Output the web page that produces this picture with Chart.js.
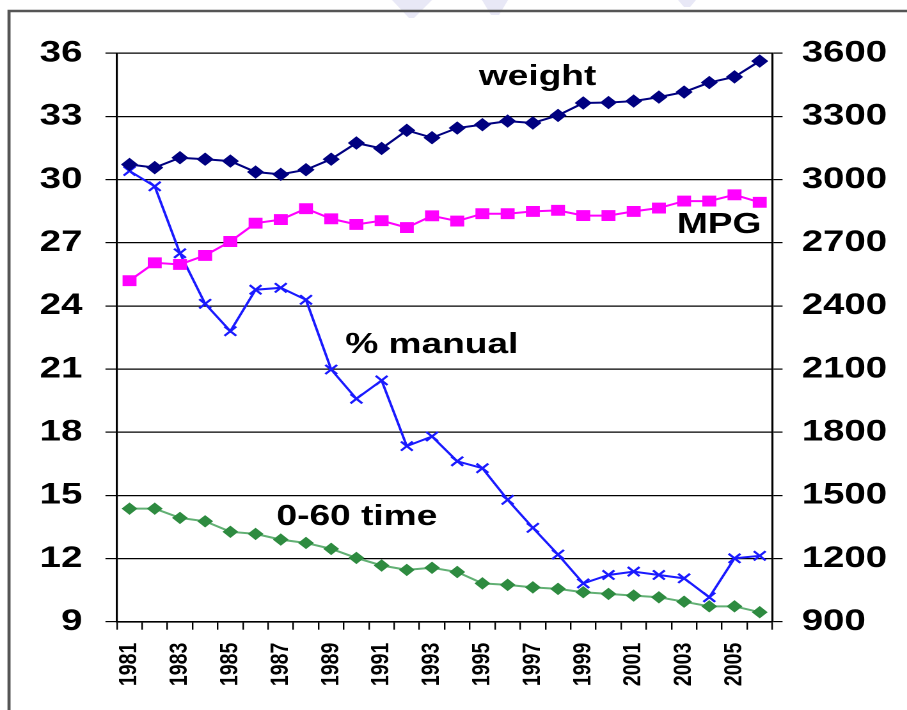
<!DOCTYPE html>
<html>
<head>
<meta charset="utf-8">
<script src="https://cdn.jsdelivr.net/npm/chart.js@4.4.0/dist/chart.umd.min.js"></script>
<style>
  html, body { margin: 0; padding: 0; background: #fff; overflow: hidden; }
  #wrap { position: absolute; left: 0; top: 0; width: 709px; height: 710px;
          transform: scaleX(1.2793); transform-origin: 0 0; }
</style>
</head>
<body>
<div id="wrap"><canvas id="c" width="709" height="710"></canvas></div>
<script>
// ---- data ----
const years = ["1981","1982","1983","1984","1985","1986","1987","1988","1989","1990","1991","1992","1993",
               "1994","1995","1996","1997","1998","1999","2000","2001","2002","2003","2004","2005","2006"];
const weight = [3072, 3057, 3104, 3097, 3088, 3036, 3025, 3047, 3097, 3174, 3148, 3234, 3199,
                3245, 3261, 3278, 3269, 3305, 3364, 3366, 3373, 3392, 3416, 3461, 3488, 3563];
const mpg = [25.2, 26.05, 25.97, 26.4, 27.06, 27.93, 28.1, 28.62, 28.14, 27.87, 28.05, 27.72, 28.28,
             28.03, 28.38, 28.38, 28.49, 28.54, 28.29, 28.29, 28.49, 28.65, 28.98, 28.98, 29.28, 28.92];
const pctManual = [30.41, 29.68, 26.5, 24.1, 22.8, 24.77, 24.86, 24.29, 20.98, 19.59, 20.46, 17.34, 17.8,
                   16.62, 16.29, 14.79, 13.46, 12.19, 10.82, 11.22, 11.38, 11.22, 11.06, 10.16, 12.01, 12.13];
const zeroToSixty = [14.37, 14.37, 13.93, 13.77, 13.27, 13.17, 12.9, 12.74, 12.46, 12.03, 11.67, 11.46, 11.56,
                     11.36, 10.82, 10.75, 10.63, 10.56, 10.4, 10.32, 10.24, 10.16, 9.95, 9.73, 9.73, 9.45];
const leftTicks = { min: 9, max: 36, step: 3 };
const rightTicks = { min: 900, max: 3600, step: 300 };
const seriesLabels = ["weight", "MPG", "% manual", "0-60 time"];

const SX = 1.2793; // horizontal stretch of the reference picture
const FONT = '"Liberation Sans", Arial, sans-serif';

// annotations placed in data coordinates (category index, left-axis value)
const notes = [
  { text: seriesLabels[0], idx: 16.19, val: 34.49 },
  { text: seriesLabels[1], idx: 23.39, val: 27.46 },
  { text: seriesLabels[2], idx: 11.99, val: 21.76 },
  { text: seriesLabels[3], idx: 9.02,  val: 13.59 }
];

const decor = {
  id: 'decor',
  beforeDraw(chart) {
    const ctx = chart.ctx;
    ctx.save();
    ctx.fillStyle = '#fff';
    ctx.fillRect(0, 0, chart.width, chart.height);
    // faint slide-background shapes at the very top
    ctx.fillStyle = '#e8e8f6';
    const shapes = [
      [[392,0],[432,0],[414,18],[409,18]],
      [[482,0],[508,0],[499,15],[491,15]],
      [[678,0],[696,0],[690,7],[684,7]]
    ];
    shapes.forEach(p => {
      ctx.beginPath();
      p.forEach((pt, i) => { const x = pt[0] / SX; i ? ctx.lineTo(x, pt[1]) : ctx.moveTo(x, pt[1]); });
      ctx.closePath(); ctx.fill();
    });
    // outer frame
    ctx.strokeStyle = '#555';
    ctx.lineWidth = 2.4;
    ctx.beginPath();
    ctx.moveTo(9 / SX, 720); ctx.lineTo(9 / SX, 11); ctx.lineTo(chart.width + 10, 11);
    ctx.stroke();
    ctx.restore();
  },
  afterDatasetsDraw(chart) {
    const ctx = chart.ctx, xs = chart.scales.x, ys = chart.scales.y;
    ctx.save();
    ctx.fillStyle = '#000';
    ctx.font = 'bold 29px ' + FONT;
    ctx.textAlign = 'center';
    ctx.textBaseline = 'alphabetic';
    notes.forEach(n => ctx.fillText(n.text, xs.getPixelForValue(n.idx), ys.getPixelForValue(n.val)));
    ctx.restore();
  }
};

new Chart(document.getElementById('c'), {
  type: 'line',
  data: {
    labels: years,
    datasets: [
      { label: seriesLabels[0], data: weight, yAxisID: 'y1',
        borderColor: '#000080', backgroundColor: '#000080', borderWidth: 2,
        pointStyle: 'rectRot', pointRadius: 6, pointBackgroundColor: '#000080', pointBorderColor: '#000080', pointBorderWidth: 1 },
      { label: seriesLabels[1], data: mpg, yAxisID: 'y',
        borderColor: '#FF00FF', backgroundColor: '#FF00FF', borderWidth: 2,
        pointStyle: 'rect', pointRadius: 7, pointBackgroundColor: '#FF00FF', pointBorderColor: '#FF00FF', pointBorderWidth: 1 },
      { label: seriesLabels[2], data: pctManual, yAxisID: 'y',
        borderColor: '#1a1aff', backgroundColor: '#1a1aff', borderWidth: 2,
        pointStyle: 'crossRot', pointRadius: 6.5, pointBorderColor: '#1a1aff', pointBorderWidth: 2 },
      { label: seriesLabels[3], data: zeroToSixty, yAxisID: 'y',
        borderColor: '#62b074', backgroundColor: '#2e8b40', borderWidth: 2,
        pointStyle: 'rectRot', pointRadius: 5.5, pointBackgroundColor: '#2e8b40', pointBorderColor: '#2e8b40', pointBorderWidth: 1 }
    ]
  },
  options: {
    responsive: false,
    devicePixelRatio: 2,
    animation: false,
    layout: { padding: { top: 53.3, left: 0, right: 0, bottom: 0 } },
    plugins: { legend: { display: false }, tooltip: { enabled: false } },
    elements: { line: { tension: 0 } },
    scales: {
      x: {
        type: 'category', offset: true,
        grid: { offset: true, drawOnChartArea: false, drawTicks: true, tickLength: 8, color: '#000', lineWidth: 1.2 },
        border: { display: true, color: '#000', width: 1.6 },
        ticks: {
          autoSkip: false, minRotation: 90, maxRotation: 90, padding: 13, color: '#000',
          font: { family: FONT, size: 19.5, weight: 'bold' },
          callback: function (v, i) { return i % 2 === 0 ? this.getLabelForValue(v) : ''; }
        },
        afterFit: s => { s.height = 88.3; }
      },
      y: {
        position: 'left', min: leftTicks.min, max: leftTicks.max,
        grid: { color: '#000', lineWidth: 1.2, tickLength: 9, drawTicks: true },
        border: { display: true, color: '#000', width: 1.6 },
        ticks: { stepSize: leftTicks.step, padding: 18, color: '#000', font: { family: FONT, size: 30, weight: 'bold' },
                 callback: v => String(v) },
        afterFit: s => { s.width = 91.4; }
      },
      y1: {
        position: 'right', min: rightTicks.min, max: rightTicks.max,
        grid: { drawOnChartArea: false, color: '#000', lineWidth: 1.2, tickLength: 8, drawTicks: true },
        border: { display: true, color: '#000', width: 1.6 },
        ticks: { stepSize: rightTicks.step, padding: 15, color: '#000', font: { family: FONT, size: 30, weight: 'bold' },
                 callback: v => String(v) },
        afterFit: s => { s.width = 105.3; }
      }
    }
  },
  plugins: [decor]
});
</script>
</body>
</html>
